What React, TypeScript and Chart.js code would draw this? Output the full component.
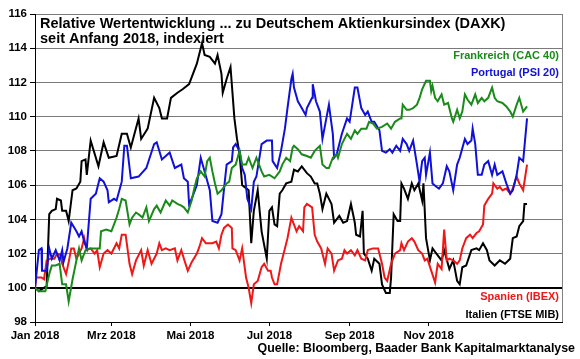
import React, { useEffect, useRef } from "react";
import { Chart, registerables } from "chart.js";

Chart.register(...registerables);

// x values are calendar days since 1 Jan 2018
const tickDays = [0, 59, 120, 181, 243, 304];
const tickLabels = ["Jan 2018", "Mrz 2018", "Mai 2018", "Jul 2018", "Sep 2018", "Nov 2018"];

const franceDays = [0, 3, 8, 11, 13, 16, 19, 21, 24, 26, 29, 32, 34, 36, 39, 42, 46, 50, 51, 55, 59, 63, 65, 67, 70, 73, 75, 78, 80, 83, 86, 88, 92, 94, 97, 101, 104, 106, 110, 113, 115, 118, 121, 123, 125, 128, 131, 133, 135, 137, 139, 141, 144, 148, 150, 152, 155, 158, 160, 163, 165, 168, 171, 175, 177, 181, 185, 189, 191, 194, 197, 199, 200, 203, 206, 210, 213, 216, 220, 222, 225, 227, 230, 233, 234, 237, 239, 241, 244, 247, 249, 252, 256, 258, 261, 264, 268, 272, 275, 278, 282, 283, 284, 287, 289, 292, 295, 297, 299, 302, 305, 306, 307, 309, 311, 314, 316, 319, 322, 323, 326, 328, 330, 332, 334, 337, 340, 342, 345, 347, 350, 353, 355, 357, 361, 364, 367, 369, 372, 374, 377, 380];
const franceValues = [100, 99.8, 99.8, 100.8, 101.3, 101.3, 101.4, 100.2, 100.2, 99.2, 100.5, 101.6, 102.3, 101.6, 102.2, 102.3, 102.3, 102.3, 103.3, 103.4, 103.3, 104.1, 104.6, 105.2, 105.1, 103.7, 104.1, 104.4, 104.3, 104.1, 104.7, 103.9, 104.6, 104.8, 104.4, 105.1, 104.8, 105.1, 104.9, 104.8, 104.7, 104.4, 105.1, 105.8, 106.4, 106.8, 106.5, 107.4, 107.6, 106.8, 106.1, 105.5, 105.7, 106.1, 106.2, 107.0, 107.2, 108.0, 107.2, 107.2, 107.6, 107.0, 107.6, 106.8, 106.5, 106.6, 106.4, 106.8, 107.2, 107.6, 107.4, 108.2, 108.3, 108.1, 107.8, 107.7, 107.6, 108.0, 108.3, 107.2, 107.0, 107.0, 107.6, 107.8, 107.6, 108.4, 108.7, 109.0, 108.7, 109.2, 109.0, 109.3, 109.3, 109.7, 109.6, 109.3, 109.4, 109.6, 109.3, 109.7, 109.9, 109.9, 110.7, 110.4, 110.4, 110.5, 110.7, 111.1, 111.6, 112.1, 112.1, 111.5, 111.8, 111.1, 110.9, 111.3, 110.7, 110.8, 109.9, 109.7, 110.4, 109.9, 110.3, 111.3, 111.0, 110.7, 111.3, 110.8, 111.1, 110.9, 111.1, 111.7, 111.1, 110.9, 110.8, 110.6, 110.3, 110.0, 110.7, 111.1, 110.3, 110.6];

const portugalDays = [0, 3, 5, 5.4, 9, 11, 13, 16, 19, 21, 22, 25, 28, 32, 34, 36, 38, 40, 43, 47, 50, 53, 56, 57, 61, 63, 67, 69, 71, 74, 80, 86, 92, 94, 98, 104, 108, 113, 115, 118, 119, 121, 125, 128, 131, 135, 137, 141, 144, 146, 148, 152, 153, 155, 158, 160, 162, 164, 167, 169, 171, 175, 179, 183, 183.5, 187, 190, 193, 195, 198, 199, 200, 203, 206, 209, 210, 214, 214.5, 217, 220, 222, 225, 227, 230, 231, 233, 237, 241, 243, 247, 249, 252, 255, 257, 260, 262, 266, 268, 271, 274, 276, 279, 282, 284, 287, 289, 292, 295, 297, 299, 301, 302, 305, 307, 310, 312, 315, 318, 320, 323, 326, 328, 332, 334, 337, 338, 340, 342, 345, 347, 350, 353, 355, 357, 361, 364, 367, 369, 372, 374, 377, 380];
const portugalValues = [100, 102.2, 102.3, 101.0, 101.0, 102.3, 101.7, 102.2, 101.6, 102.2, 101.5, 102.3, 103.8, 103.3, 103.0, 103.3, 102.7, 102.3, 105.2, 105.5, 106.4, 106.2, 105.7, 105.0, 105.2, 105.1, 106.2, 108.3, 108.3, 106.4, 106.5, 107.0, 108.4, 108.5, 107.5, 107.9, 107.0, 107.2, 106.4, 106.2, 104.9, 105.2, 106.0, 107.6, 106.8, 105.7, 103.9, 103.8, 104.3, 105.8, 107.2, 107.4, 108.2, 108.4, 108.0, 107.0, 106.6, 105.2, 104.6, 106.2, 106.5, 108.4, 108.6, 108.6, 107.4, 107.0, 108.0, 109.3, 110.5, 112.2, 112.5, 111.7, 110.9, 110.5, 110.1, 110.5, 111.1, 111.9, 110.9, 110.3, 108.7, 109.9, 110.7, 109.0, 107.6, 107.8, 109.0, 109.9, 109.7, 111.7, 111.7, 110.5, 110.1, 110.3, 109.7, 109.7, 109.2, 108.0, 107.9, 108.1, 107.9, 108.3, 108.0, 108.7, 108.4, 108.0, 108.6, 107.2, 106.2, 107.4, 107.6, 106.6, 107.9, 106.1, 105.9, 105.8, 106.1, 107.1, 106.8, 105.7, 107.2, 107.6, 108.7, 108.4, 108.6, 109.3, 108.4, 106.6, 106.6, 107.2, 107.4, 106.6, 107.2, 106.6, 106.8, 106.1, 105.5, 105.7, 106.6, 107.6, 107.4, 109.9];

const spainDays = [0, 1, 5, 7, 9, 12, 15, 17, 20, 21, 24, 26, 28, 30, 32, 36, 38, 40, 43, 46, 48, 50, 53, 56, 59, 63, 65, 67, 70, 73, 75, 78, 82, 84, 87, 90, 94, 96, 98, 101, 104, 108, 110, 113, 115, 118, 121, 125, 127, 129, 132, 135, 137, 140, 142, 144, 146, 149, 152, 152.5, 155, 158, 160, 163, 165, 167, 169, 172, 175, 177, 180, 182, 183, 185, 187, 190, 193, 195, 198, 199, 202, 204, 207, 208, 210, 214, 216, 218, 221, 224, 226, 229, 231, 234, 237, 239, 241, 244, 247, 249, 252, 255, 257, 261, 265, 268, 270, 272, 275, 278, 282, 283, 285, 288, 291, 293, 296, 299, 301, 303, 306, 309, 311, 314, 316, 318, 320, 323, 326, 328, 330, 333, 336, 338, 341, 343, 346, 347, 350, 353, 354, 357, 359, 361, 364, 367, 369, 372, 374, 377, 380];
const spainValues = [100, 100.6, 100.6, 100.5, 101.6, 101.7, 101.7, 102.0, 101.9, 101.4, 100.8, 101.5, 102.3, 102.3, 101.7, 102.3, 102.9, 102.2, 102.3, 102.0, 102.2, 101.2, 102.0, 102.2, 102.0, 102.6, 102.3, 103.1, 103.1, 101.4, 100.8, 101.6, 102.2, 101.3, 102.2, 101.4, 102.0, 102.6, 102.2, 102.3, 102.2, 102.3, 101.6, 102.2, 101.7, 101.0, 101.5, 102.0, 102.4, 102.9, 102.6, 102.6, 102.6, 102.7, 102.3, 103.1, 103.5, 103.7, 103.5, 102.3, 102.2, 101.6, 102.3, 100.6, 100.0, 99.1, 100.2, 100.4, 101.2, 101.4, 101.0, 101.0, 100.6, 100.2, 100.2, 101.4, 102.3, 102.9, 104.1, 103.9, 103.3, 103.6, 103.3, 104.7, 104.9, 104.7, 103.1, 102.7, 102.3, 101.4, 102.3, 102.0, 101.0, 101.6, 101.7, 102.2, 102.0, 102.2, 101.9, 102.2, 101.7, 101.6, 102.2, 102.3, 102.3, 101.4, 100.6, 100.4, 101.4, 102.0, 102.2, 102.6, 102.2, 102.7, 102.9, 102.7, 102.2, 102.0, 101.6, 101.7, 101.0, 100.3, 101.4, 101.1, 103.4, 101.6, 101.7, 101.6, 101.4, 101.6, 102.3, 102.9, 103.1, 102.9, 103.2, 103.3, 103.7, 104.8, 105.2, 105.5, 106.1, 105.8, 105.9, 105.7, 105.8, 105.5, 105.8, 106.5, 106.1, 105.7, 107.2];

const italyDays = [0, 3, 9, 11, 13, 16, 17, 20, 21, 24, 26, 29, 32, 35, 36, 39, 40, 43, 49, 53, 57, 63, 67, 71, 74, 80, 82, 87, 92, 96, 98, 102, 105, 110, 114, 119, 125, 129, 131, 135, 139, 141, 144, 145, 148, 151, 154, 156, 158, 160, 165, 167, 169, 172, 175, 179, 181, 183, 185, 187, 189, 191, 194, 198, 200, 203, 206, 210, 213, 216, 218, 220, 222, 225, 229, 231, 235, 238, 241, 244, 247, 248, 251, 253, 254, 257, 260, 262, 266, 268, 271, 274, 275, 277, 280, 282, 283, 285, 288, 291, 293, 296, 299, 300, 302, 305, 307, 310, 314, 316, 320, 323, 326, 328, 330, 333, 337, 341, 343, 346, 349, 351, 355, 359, 363, 367, 369, 372, 374, 377, 378, 380];
const italyValues = [100, 99.8, 100.1, 104.3, 104.5, 104.6, 105.2, 105.1, 104.5, 104.5, 103.9, 105.7, 105.8, 106.2, 107.4, 107.5, 106.6, 108.6, 107.1, 108.5, 107.6, 107.7, 109.0, 109.0, 108.2, 109.9, 108.7, 109.3, 111.1, 110.5, 109.9, 109.9, 111.1, 111.4, 111.6, 111.9, 113.1, 114.3, 113.6, 113.5, 113.1, 113.6, 112.5, 111.4, 112.2, 112.9, 109.9, 108.7, 107.8, 106.0, 105.7, 102.6, 104.5, 105.7, 103.3, 101.7, 104.5, 104.7, 103.7, 103.6, 105.5, 105.7, 106.1, 106.2, 106.9, 106.8, 107.1, 106.7, 106.5, 106.1, 106.1, 105.5, 104.6, 105.5, 104.9, 103.8, 104.2, 103.8, 103.9, 104.9, 103.8, 103.1, 103.0, 104.5, 102.0, 101.7, 101.0, 101.7, 101.4, 100.2, 99.7, 99.7, 100.6, 104.3, 103.9, 103.9, 106.1, 105.8, 105.2, 106.1, 105.7, 106.1, 105.1, 106.1, 102.9, 101.6, 102.3, 102.0, 101.6, 102.2, 101.1, 101.6, 100.4, 100.2, 101.2, 101.3, 102.2, 102.3, 102.2, 102.6, 102.2, 101.6, 101.3, 101.6, 101.4, 101.7, 102.9, 103.0, 103.6, 103.9, 104.9, 104.9];

const GREEN = "#1a8a1a";
const BLUE = "#1010d8";
const RED = "#ee1818";
const BLACK = "#000000";
const FONT = "'Liberation Sans', Arial, sans-serif";

function pts(days: number[], vals: number[]) {
  return days.map((d, i) => ({ x: d, y: vals[i] }));
}

const textPlugin = {
  id: "texts",
  afterDraw(chart: any) {
    const { ctx, chartArea } = chart;
    ctx.save();
    // right border
    ctx.strokeStyle = "#808080";
    ctx.lineWidth = 1;
    ctx.beginPath();
    ctx.moveTo(chartArea.right + 0.5, chartArea.top);
    ctx.lineTo(chartArea.right + 0.5, chartArea.bottom);
    ctx.stroke();

    ctx.fillStyle = "#000";
    ctx.textAlign = "left";
    ctx.textBaseline = "alphabetic";
    ctx.font = `bold 14.5px ${FONT}`;
    ctx.fillText("Relative Wertentwicklung ... zu Deutschem Aktienkursindex (DAXK)", 40, 28);
    ctx.fillText("seit Anfang 2018, indexiert", 40, 43);

    ctx.textAlign = "right";
    ctx.font = `bold 11px ${FONT}`;
    ctx.fillStyle = GREEN;
    ctx.fillText("Frankreich (CAC 40)", 559, 59);
    ctx.fillStyle = BLUE;
    ctx.fillText("Portugal (PSI 20)", 559, 76);
    ctx.fillStyle = RED;
    ctx.fillText("Spanien (IBEX)", 559, 300);
    ctx.fillStyle = BLACK;
    ctx.fillText("Italien (FTSE MIB)", 559, 318);

    ctx.font = `bold 12.4px ${FONT}`;
    ctx.fillStyle = "#000";
    ctx.fillText("Quelle: Bloomberg, Baader Bank Kapitalmarktanalyse", 575, 352);
    ctx.restore();
  },
};

export default function App() {
  const ref = useRef<HTMLCanvasElement>(null);
  useEffect(() => {
    document.body.style.margin = "0";
    const mk = (label: string, days: number[], vals: number[], color: string) => ({
      label,
      data: pts(days, vals),
      borderColor: color,
      backgroundColor: color,
      borderWidth: 2,
      pointRadius: 0,
      tension: 0,
      fill: false,
    });
    const chart = new Chart(ref.current as HTMLCanvasElement, {
      type: "line",
      data: {
        datasets: [
          mk("Frankreich (CAC 40)", franceDays, franceValues, GREEN),
          mk("Portugal (PSI 20)", portugalDays, portugalValues, BLUE),
          mk("Spanien (IBEX)", spainDays, spainValues, RED),
          mk("Italien (FTSE MIB)", italyDays, italyValues, BLACK),
        ],
      },
      options: {
        animation: false,
        responsive: false,
        maintainAspectRatio: false,
        layout: { padding: { top: 14, right: 18, bottom: 0, left: 0 } },
        plugins: { legend: { display: false }, tooltip: { enabled: false } },
        scales: {
          x: {
            type: "linear",
            min: 0,
            max: 407,
            afterBuildTicks: (scale: any) => {
              scale.ticks = tickDays.map((v) => ({ value: v }));
            },
            afterFit: (scale: any) => {
              scale.height = 37;
            },
            ticks: {
              autoSkip: false,
              maxRotation: 0,
              color: "#000",
              font: { family: FONT, size: 11.5, weight: "bold" },
              padding: 3,
              callback: (v: any) => {
                const i = tickDays.indexOf(Number(v));
                return i >= 0 ? tickLabels[i] : "";
              },
            },
            grid: { drawOnChartArea: false, drawTicks: true, tickLength: 4, color: "#000" },
            border: { color: "#000", width: 1 },
          },
          y: {
            min: 98,
            max: 116,
            afterFit: (scale: any) => {
              scale.width = 35;
            },
            ticks: {
              stepSize: 2,
              color: "#000",
              font: { family: FONT, size: 11.5, weight: "bold" },
              padding: 3,
            },
            grid: {
              color: (c: any) => (c.tick && c.tick.value === 100 ? "#000" : "#7a7a7a"),
              lineWidth: (c: any) => (c.tick && c.tick.value === 100 ? 2 : 1),
              tickColor: "#000",
              tickLength: 5,
            },
            border: { color: "#000", width: 1 },
          },
        },
      },
      plugins: [textPlugin],
    } as any);
    return () => chart.destroy();
  }, []);
  return (
    <div style={{ width: 580, height: 359, position: "relative", background: "#fff" }}>
      <canvas ref={ref} width={580} height={359} style={{ display: "block" }} />
    </div>
  );
}
